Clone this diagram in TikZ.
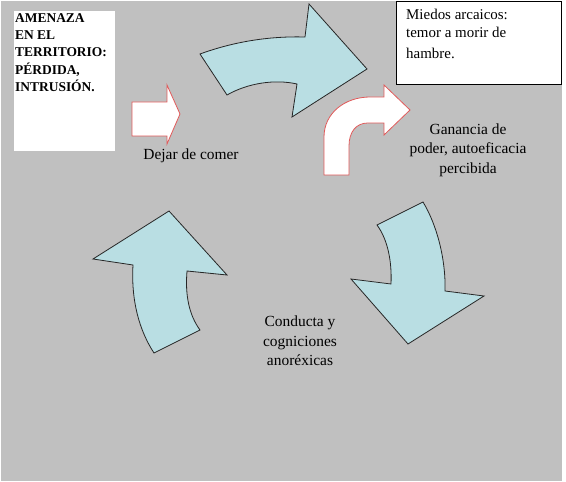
\documentclass[tikz,border=0pt]{standalone}
\usepackage{fontspec}
\setmainfont{Liberation Serif}
\begin{document}
\begin{tikzpicture}[x=1bp,y=-1bp,
  bluearrow/.style={fill=arrowblue,draw=black!85,line width=0.8bp,line join=miter},
  redarrow/.style={fill=white,draw=arrowred,line width=0.8bp},
  lbl/.style={font=\fontsize{15.5}{19.5}\selectfont,align=center,inner sep=0pt},
  whitebox/.style={fill=white,draw=black,line width=0.6bp}]
\definecolor{bggray}{HTML}{C0C0C0}
\definecolor{arrowblue}{HTML}{B9DEE3}
\definecolor{arrowred}{HTML}{E05A5A}
\useasboundingbox (0,0) rectangle (566,482);
\fill[white] (0,0) rectangle (566,482);
\fill[bggray] (1,1) rectangle (562,481);
% left box
\node[fill=white,draw=none,minimum width=101bp,minimum height=140bp,anchor=north west,inner sep=0pt] (amenaza) at (14,11) {};
\node[anchor=north west,inner sep=0pt,align=left,font=\fontsize{13.5}{17.5}\selectfont\bfseries] (amtext) at (15,13) {AMENAZA\\EN EL\\TERRITORIO:\\PÉRDIDA,\\INTRUSIÓN.};
% top-right box
\node[whitebox,minimum width=165bp,minimum height=83bp,anchor=north west,inner sep=0pt] (miedos) at (396,1) {};
\node[anchor=north west,inner sep=0pt,align=left,font=\fontsize{15}{18}\selectfont] (mtext) at (406,9) {Miedos arcaicos:\\temor a morir de\\[3.5bp]hambre.};
% labels
\node[lbl] (dejar) at (191,156) {Dejar de comer};
\node[lbl] (ganancia) at (468,150) {Ganancia de\\poder, autoeficacia\\percibida};
\node[lbl] (conducta) at (300,341) {Conducta y\\cogniciones\\anoréxicas};
% top blue arrow
\draw[bluearrow] (200,54) .. controls (233,42) and (268,36) .. (305,37) -- (309,4) -- (367,69) -- (292,117) -- (297,84) .. controls (275,79) and (248,83) .. (227,95) -- cycle;
% right blue arrow (down)
\draw[bluearrow] (377,225) -- (423,202) .. controls (437,225) and (446,260) .. (445,291) -- (484,296) -- (408,344) -- (351,279) -- (391,284) .. controls (392,262) and (388,240) .. cycle;
% left blue arrow (up)
\draw[bluearrow] (154,353) .. controls (139,330) and (131,300) .. (133,265) -- (93,259) -- (169,211) -- (227,275) -- (187,271) .. controls (185,295) and (189,315) .. (200,330) -- cycle;
% red straight arrow
\draw[redarrow] (132,102) -- (167,102) -- (167,85) -- (180,114) -- (167,144) -- (167,136) -- (132,136) -- cycle;
% red bent arrow
\draw[redarrow] (324,175) -- (324,137) .. controls (324,113) and (345,97) .. (370,97) -- (384,97) -- (384,85) -- (410,110) -- (384,135) -- (384,123) -- (368,123) .. controls (356,123) and (349,132) .. (349,146) -- (349,175) -- cycle;
\end{tikzpicture}
\end{document}
